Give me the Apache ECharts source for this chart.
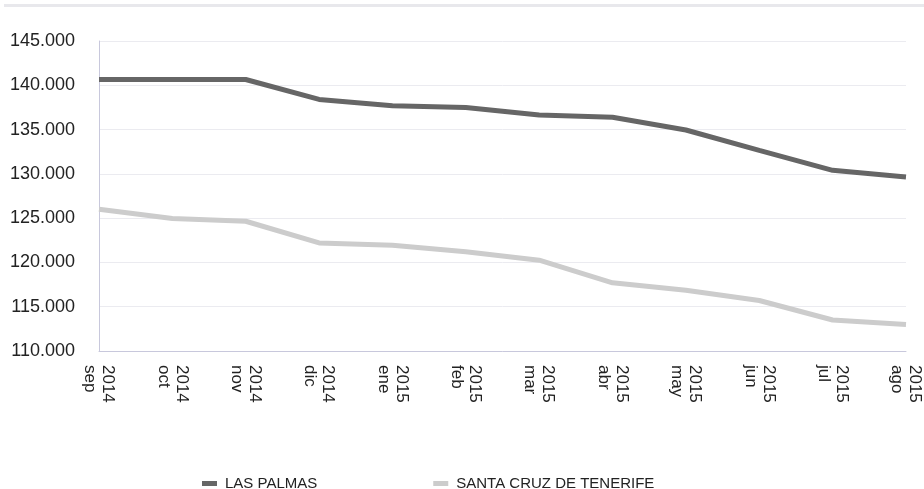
<!DOCTYPE html>
<html style="height: 100%">
<head>
    <meta charset="utf-8">
</head>
<body style="height: 100%; margin: 0">
    <div id="container" style="width: 924px; height: 489px"></div>
    <script type="text/javascript" src="https://cdn.jsdelivr.net/npm/echarts@6/dist/echarts.min.js"></script>
    <script type="text/javascript">
        var months = ['sep', 'oct', 'nov', 'dic', 'ene', 'feb', 'mar', 'abr', 'may', 'jun', 'jul', 'ago'];
        var years = ['2014', '2014', '2014', '2014', '2015', '2015', '2015', '2015', '2015', '2015', '2015', '2015'];
        var lasPalmas = [140650, 140650, 140650, 138400, 137700, 137500, 136650, 136400, 134950, 132650, 130400, 129650];
        var santaCruz = [126000, 124950, 124650, 122200, 121950, 121200, 120250, 117700, 116870, 115700, 113500, 113000];
        var seriesNames = ['LAS PALMAS', 'SANTA CRUZ DE TENERIFE'];

        var dom = document.getElementById("container");
        var myChart = echarts.init(dom);
        var font = '"Liberation Sans", Arial, sans-serif';

        var option = {
            animation: false,
            textStyle: { fontFamily: font },
            graphic: [{
                type: 'rect',
                shape: { x: 4, y: 4, width: 920, height: 3 },
                style: { fill: '#e8e8ec' },
                silent: true
            }],
            grid: {
                left: 99,
                right: 15,
                top: 41,
                bottom: 138
            },
            legend: {
                left: 202,
                top: 476,
                padding: 0,
                itemGap: 116,
                itemWidth: 15,
                itemHeight: 5,
                icon: 'rect',
                textStyle: {
                    fontFamily: font,
                    fontSize: 15,
                    color: '#222',
                    padding: [0, 0, 0, 3]
                },
                data: seriesNames
            },
            xAxis: {
                type: 'category',
                boundaryGap: false,
                data: months,
                axisLine: { lineStyle: { color: '#c8c8dc', width: 1 } },
                axisTick: { show: false },
                axisLabel: {
                    interval: 0,
                    rotate: -90,
                    margin: 14,
                    fontSize: 17,
                    lineHeight: 18,
                    color: '#222',
                    fontFamily: font,
                    formatter: function (val, idx) {
                        return years[idx] + '\n' + val;
                    }
                }
            },
            yAxis: {
                type: 'value',
                min: 110000,
                max: 145000,
                interval: 5000,
                axisLine: { show: true, lineStyle: { color: '#c8c8dc', width: 1 } },
                axisTick: { show: false },
                splitLine: { lineStyle: { color: '#ebebf0', width: 1 } },
                axisLabel: {
                    margin: 24,
                    fontSize: 18,
                    color: '#222',
                    fontFamily: font,
                    formatter: function (v) {
                        return String(v).replace(/\B(?=(\d{3})+(?!\d))/g, '.');
                    }
                }
            },
            series: [{
                name: seriesNames[0],
                type: 'line',
                data: lasPalmas,
                symbol: 'none',
                lineStyle: { color: '#666666', width: 5 },
                itemStyle: { color: '#666666' }
            }, {
                name: seriesNames[1],
                type: 'line',
                data: santaCruz,
                symbol: 'none',
                lineStyle: { color: '#cccccc', width: 5 },
                itemStyle: { color: '#cccccc' }
            }]
        };
        myChart.setOption(option, true);
    </script>
</body>
</html>
